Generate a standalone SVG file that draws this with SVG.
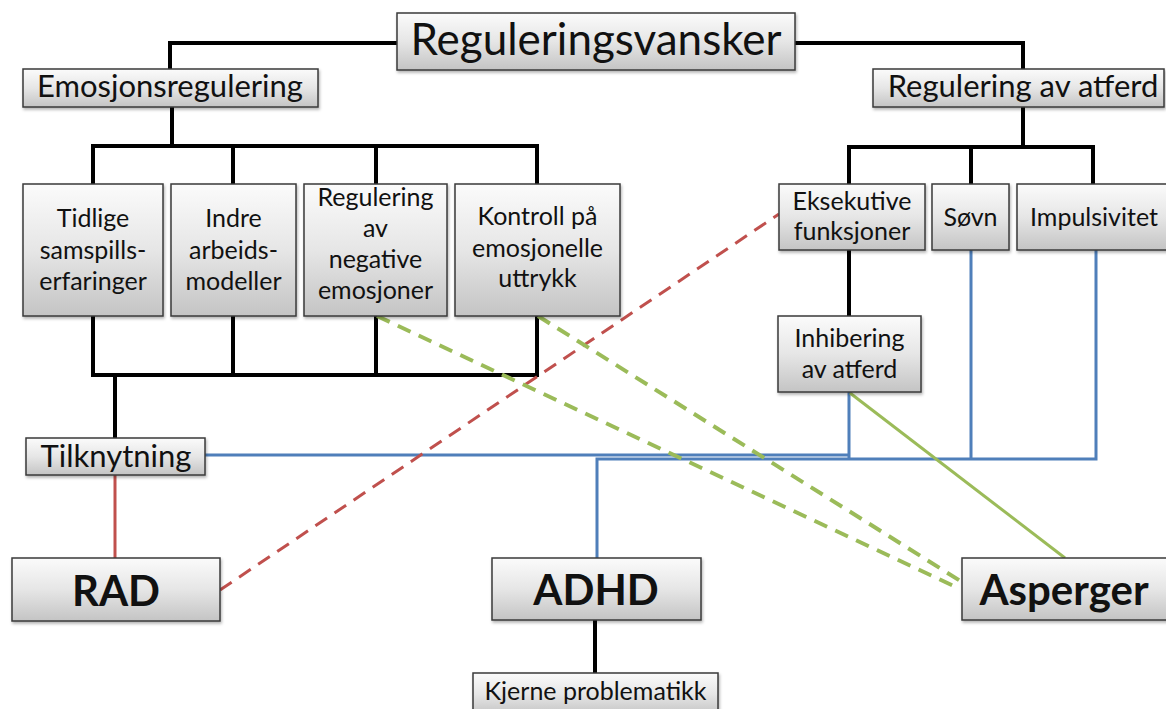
<svg xmlns="http://www.w3.org/2000/svg" width="1166" height="709" viewBox="0 0 1166 709">
  <defs>
    <linearGradient id="boxFill" x1="0" y1="0" x2="0" y2="1">
      <stop offset="0" stop-color="#fbfbfb"/>
      <stop offset="0.5" stop-color="#e6e6e6"/>
      <stop offset="1" stop-color="#c4c4c4"/>
    </linearGradient>
    <filter id="shadow" x="-10%" y="-10%" width="120%" height="130%">
      <feDropShadow dx="1" dy="2" stdDeviation="1.5" flood-color="#000" flood-opacity="0.3"/>
    </filter>
  </defs>
  <style>
    .box { fill: url(#boxFill); stroke: #3a3a3a; stroke-width: 1.5; filter: url(#shadow); }
    text { font-family: Lato, "Open Sans", "Liberation Sans", sans-serif; fill: #111; text-anchor: middle; }
    .big { font-size: 44px; }
    .mid { font-size: 31px; }
    .sm { font-size: 25px; }
    .bold { font-size: 42px; font-weight: bold; }
    .tree { fill: none; stroke: #000; stroke-width: 4; stroke-linejoin: miter; }
    .blue { fill: none; stroke: #4f7fba; stroke-width: 3; }
    .red { fill: none; stroke: #c0504d; stroke-width: 3; }
    .redDash { fill: none; stroke: #c0504d; stroke-width: 3; stroke-dasharray: 14 9; }
    .green { fill: none; stroke: #9bbb59; stroke-width: 3; }
    .greenDash { fill: none; stroke: #9bbb59; stroke-width: 4; stroke-dasharray: 14 9; }
  </style>

  <!-- connectors -->
  <g id="connectors">
    <!-- top level tree -->
    <path class="tree" d="M397 43 H170 V69 M795 43 H1023 V69"/>
    <path class="tree" d="M172 107 V146 M93 184 V146 H537 V184 M233 146 V184 M376 146 V184"/>
    <path class="tree" d="M1023 107 V147 M849 184 V147 H1093 V184 M971 147 V184"/>
    <path class="tree" d="M849 250 V316"/>
    <!-- emotional subtrees joined to Tilknytning -->
    <path class="tree" d="M93 316 V375 H537 V316 M233 316 V375 M376 316 V375 M115 375 V438"/>
    <path class="tree" d="M595 620 V673"/>
    <!-- Tilknytning to RAD -->
    <path class="red" d="M115 475 V558"/>
    <!-- blue links to ADHD -->
    <path class="blue" d="M205 455 H849"/>
    <path class="blue" d="M597 558 V459 H1096 V250 M849 392 V459 M971 250 V459"/>
    <!-- dashed RAD to Eksekutive funksjoner -->
    <path class="redDash" d="M220 590 L779 214"/>
    <!-- links to Asperger -->
    <path class="greenDash" d="M377 316 L958 588"/>
    <path class="greenDash" d="M538 316 L962 582"/>
    <path class="green" d="M850 393 L1065 558"/>
  </g>

  <g id="n-reguleringsvansker">
    <rect class="box" x="397" y="13" width="398" height="57"/>
    <text class="big" x="596" y="55">Reguleringsvansker</text>
  </g>
  <g id="n-emosjonsregulering">
    <rect class="box" x="23" y="69" width="295" height="38"/>
    <text class="mid" x="170" y="97">Emosjonsregulering</text>
  </g>
  <g id="n-regulering-atferd">
    <rect class="box" x="873" y="69" width="291" height="38"/>
    <text class="mid" x="1023" y="97">Regulering av atferd</text>
  </g>

  <g id="n-tidlige">
    <rect class="box" x="23" y="184" width="140" height="132"/>
    <text class="sm" x="93" y="227">Tidlige</text>
    <text class="sm" x="93" y="259">samspills-</text>
    <text class="sm" x="93" y="290">erfaringer</text>
  </g>
  <g id="n-indre">
    <rect class="box" x="171" y="184" width="125" height="132"/>
    <text class="sm" x="233.5" y="227">Indre</text>
    <text class="sm" x="233.5" y="259">arbeids-</text>
    <text class="sm" x="233.5" y="290">modeller</text>
  </g>
  <g id="n-regulering-negative">
    <rect class="box" x="304" y="184" width="143" height="132"/>
    <text class="sm" x="375.5" y="206">Regulering</text>
    <text class="sm" x="375.5" y="237">av</text>
    <text class="sm" x="375.5" y="268">negative</text>
    <text class="sm" x="375.5" y="299">emosjoner</text>
  </g>
  <g id="n-kontroll">
    <rect class="box" x="455" y="184" width="165" height="132"/>
    <text class="sm" x="537.5" y="225">Kontroll på</text>
    <text class="sm" x="537.5" y="257">emosjonelle</text>
    <text class="sm" x="537.5" y="287">uttrykk</text>
  </g>

  <g id="n-eksekutive">
    <rect class="box" x="779" y="184" width="146" height="66"/>
    <text class="sm" x="852" y="210">Eksekutive</text>
    <text class="sm" x="852" y="240">funksjoner</text>
  </g>
  <g id="n-sovn">
    <rect class="box" x="932" y="184" width="77" height="66"/>
    <text class="sm" x="970.5" y="226">Søvn</text>
  </g>
  <g id="n-impulsivitet">
    <rect class="box" x="1017" y="184" width="150" height="66"/>
    <text class="sm" x="1094" y="226">Impulsivitet</text>
  </g>
  <g id="n-inhibering">
    <rect class="box" x="778" y="316" width="143" height="76"/>
    <text class="sm" x="849.5" y="347">Inhibering</text>
    <text class="sm" x="849.5" y="378">av atferd</text>
  </g>

  <g id="n-tilknytning">
    <rect class="box" x="26" y="438" width="179" height="37"/>
    <text class="mid" x="116" y="467">Tilknytning</text>
  </g>

  <g id="n-rad">
    <rect class="box" x="12" y="558" width="208" height="63"/>
    <text class="bold" x="116" y="606">RAD</text>
  </g>
  <g id="n-adhd">
    <rect class="box" x="492" y="558" width="209" height="62"/>
    <text class="bold" x="596" y="605">ADHD</text>
  </g>
  <g id="n-asperger">
    <rect class="box" x="962" y="558" width="210" height="62"/>
    <text class="bold" x="1064" y="605">Asperger</text>
  </g>
  <g id="n-kjerne">
    <rect class="box" x="473" y="673" width="245" height="42"/>
    <text class="sm" x="595.5" y="700">Kjerne problematikk</text>
  </g>
</svg>
